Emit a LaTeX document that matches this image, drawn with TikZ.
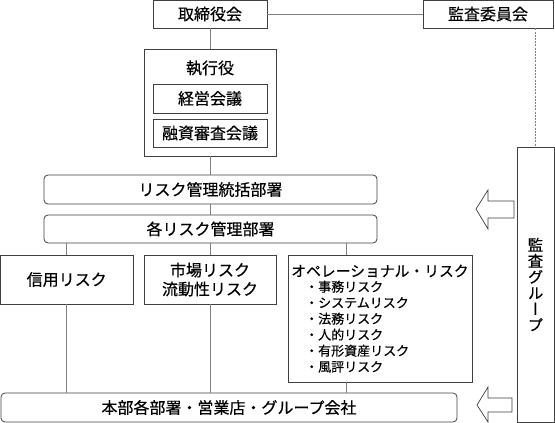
\documentclass[tikz,border=0pt]{standalone}
\usepackage{fontspec}
\setmainfont{Noto Sans CJK JP}[FakeBold=0.4]
\newfontfamily\vertfont{Noto Sans CJK JP}[RawFeature=+vert, FakeBold=0.4]
\usetikzlibrary{positioning}
\definecolor{boxgray}{HTML}{404040}
\definecolor{linegray}{HTML}{808080}
\tikzset{
	x=1pt, y=-1pt,
	box/.style={draw=boxgray, line width=0.8pt, inner sep=0pt, font=\fontsize{16}{19}\selectfont},
	rbox/.style={box, rounded corners=4pt},
	conn/.style={draw=linegray, line width=0.8pt},
	audline/.style={conn, dash pattern=on 2pt off 1.2pt},
	hollow/.style={draw=boxgray, line width=0.7pt, fill=white}}

\begin{document}
\begin{tikzpicture}
	\useasboundingbox (0,0) rectangle (555,423);

	% top row
	\node[box, minimum width=114pt, minimum height=28pt] (board) at (210,14) {取締役会};
	\node[box, minimum width=130pt, minimum height=28pt] (audcom) at (488,14) {監査委員会};

	% executive officers
	\node[box, minimum width=132pt, minimum height=107pt] (exec) at (210,102.5) {};
	\node[font=\fontsize{16}{19}\selectfont, inner sep=0pt] (exectitle) at (210,68) {執行役};
	\node[box, minimum width=114pt, minimum height=29pt] (keiei) at (210,98.5) {経営会議};
	\node[box, minimum width=114pt, minimum height=28pt] (yushi) at (210,133) {融資審査会議};

	% risk management
	\node[rbox, minimum width=333pt, minimum height=29pt] (riskgen) at (210.5,189.5) {リスク管理統括部署};
	\node[rbox, minimum width=333pt, minimum height=28pt] (riskeach) at (210.5,229) {各リスク管理部署};

	\node[box, minimum width=132.5pt, minimum height=49pt] (credit) at (66.75,279.5) {信用リスク};
	\node[box, minimum width=132pt, minimum height=49pt, align=center] (market) at (210,279.5) {市場リスク\\流動性リスク};
	\node[box, minimum width=184pt, minimum height=127pt] (oprisk) at (380,318.5) {};
	\node[font=\fontsize{14.8}{18}\selectfont, inner sep=0pt] (optitle) at (380,271) {オペレーショナル・リスク};
	\node[anchor=north west, align=left, inner sep=0pt, font=\fontsize{13}{16}\selectfont] (oplist) at (305,280.5)
		{・事務リスク\\・システムリスク\\・法務リスク\\・人的リスク\\・有形資産リスク\\・風評リスク};

	\node[rbox, minimum width=456pt, minimum height=29pt] (hq) at (229,407.5) {本部各部署・営業店・グループ会社};

	% audit group
	\node[box, minimum width=37pt, minimum height=275pt, align=center, font=\vertfont\fontsize{15.5}{16}\selectfont] (audit) at (535.5,284.5)
		{監\\査\\グ\\ル\\ー\\プ};

	\coordinate (opx) at (346,0);

	% connectors
	\draw[conn] (board) -- (audcom);
	\draw[audline] (audcom.south -| audit.north) -- (audit.north);
	\draw[conn] (board) -- (exec);
	\draw[conn] (exec.south) -- (exec.south |- riskgen.north);
	\draw[conn] (exec.south |- riskgen.south) -- (exec.south |- riskeach.north);
	\draw[conn] (riskeach.south -| credit) -- (credit.north);
	\draw[conn] (riskeach.south -| market) -- (market.north);
	\draw[conn] (riskeach.south -| opx) -- (oprisk.north -| opx);
	\draw[conn] (credit.south) -- (credit.south |- hq.north);
	\draw[conn] (market.south) -- (market.south |- hq.north);
	\draw[conn] (oprisk.south -| opx) -- (hq.north -| opx);

	% audit arrows
	\draw[hollow] (476,209) -- (488,190) -- (488,201) -- (514,201) -- (514,218) -- (488,218) -- (488,229) -- cycle;
	\draw[hollow] (477,405) -- (488,387) -- (488,398) -- (512,398) -- (512,412) -- (488,412) -- (488,422) -- cycle;
\end{tikzpicture}
\end{document}
